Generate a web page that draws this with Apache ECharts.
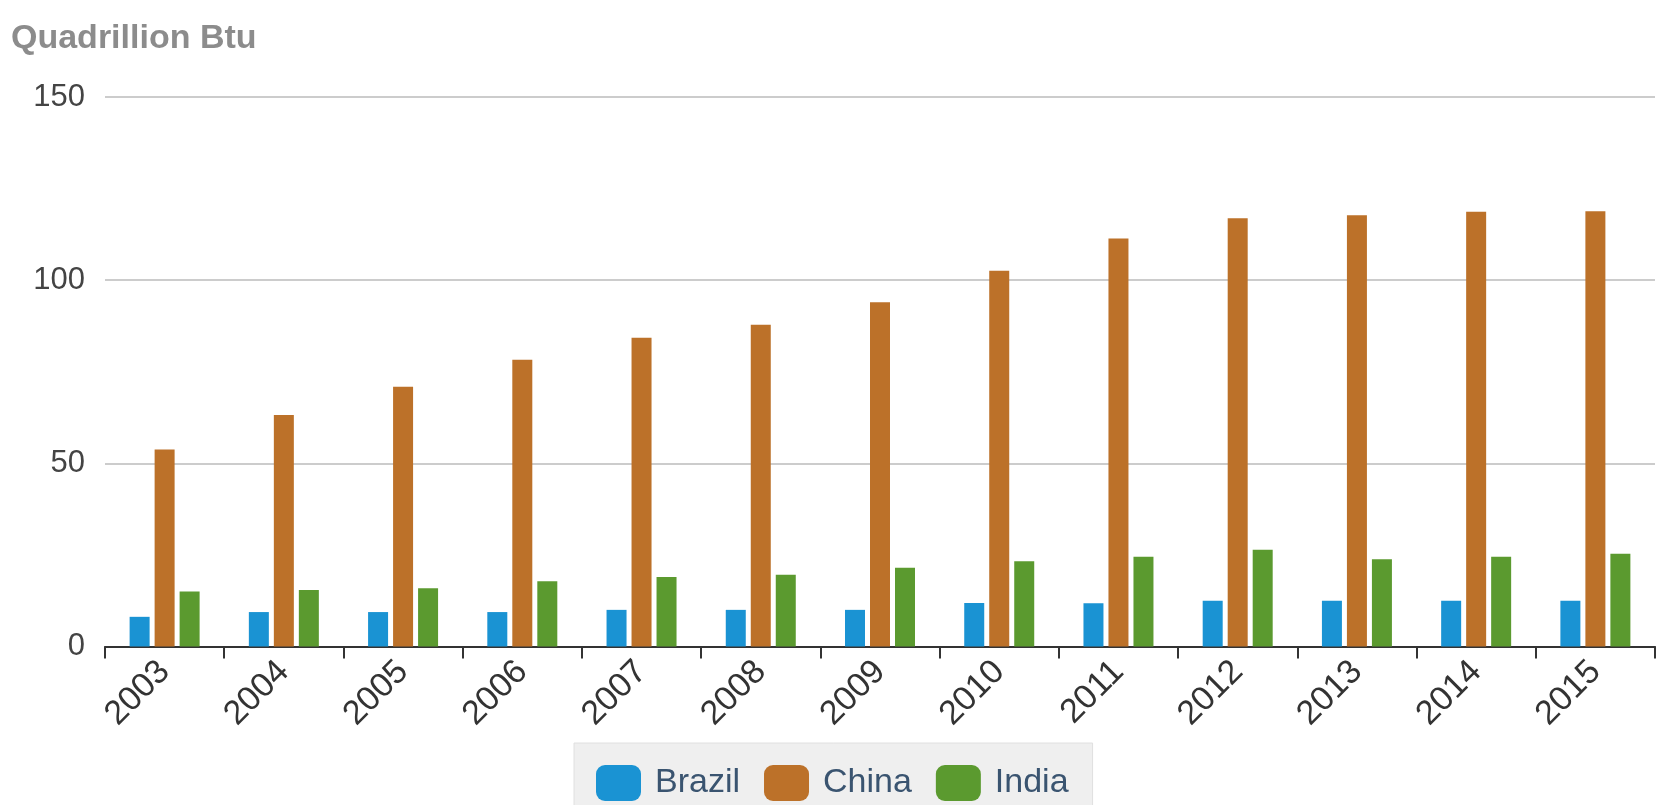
<!DOCTYPE html>
<html>
<head>
<meta charset="utf-8">
<script src="https://cdn.jsdelivr.net/npm/echarts@6/dist/echarts.min.js"></script>
<style>html,body{margin:0;padding:0;background:#fff;}#c{width:1657px;height:805px;}</style>
</head>
<body>
<div id="c"></div>
<script>
const years = ['2003','2004','2005','2006','2007','2008','2009','2010','2011','2012','2013','2014','2015'];
const brazil = [8.1, 9.4, 9.4, 9.4, 10.0, 10.0, 10.0, 11.9, 11.8, 12.5, 12.5, 12.5, 12.5];
const china = [53.8, 63.2, 70.9, 78.3, 84.3, 87.8, 94.0, 102.6, 111.4, 116.9, 117.7, 118.7, 118.8];
const india = [15.0, 15.4, 15.9, 17.8, 19.0, 19.6, 21.5, 23.3, 24.5, 26.4, 23.8, 24.5, 25.3];
const yTicks = [0, 50, 100, 150];
const unitLabel = 'Quadrillion Btu';

const FONT = '"Liberation Sans", Arial, Helvetica, sans-serif';
const chart = echarts.init(document.getElementById('c'), null, {renderer: 'canvas'});
const bar = (name, data, color) => ({
  name, type: 'bar', data, barWidth: 20, barGap: '25%',
  itemStyle: {color}, animation: false
});
chart.setOption({
  animation: false,
  textStyle: {fontFamily: FONT},
  title: {
    text: unitLabel, left: 6, top: 17,
    textStyle: {fontFamily: FONT, fontSize: 34, fontWeight: 'bold', color: '#8c8c8c'}
  },
  legend: {
    left: 574, top: 743,
    backgroundColor: '#efefef', borderColor: '#e0e0e0', borderWidth: 1,
    padding: [22, 24, 20, 22],
    itemWidth: 45, itemHeight: 36, itemGap: 24, icon: 'roundRect',
    textStyle: {fontFamily: FONT, fontSize: 34, color: '#3a5470', padding: [0, 0, 0, 9]},
    data: ['Brazil', 'China', 'India']
  },
  grid: {left: 105, right: 2, top: 97, bottom: 158.5, containLabel: false},
  xAxis: {
    type: 'category', data: years, boundaryGap: true,
    axisLine: {lineStyle: {color: '#333', width: 2}},
    axisTick: {show: true, length: 12, lineStyle: {color: '#333', width: 2}},
    axisLabel: {rotate: 45, fontSize: 34, color: '#333', margin: 20, fontFamily: FONT}
  },
  yAxis: {
    type: 'value', min: yTicks[0], max: yTicks[yTicks.length - 1], interval: 50,
    axisLine: {show: false}, axisTick: {show: false},
    splitLine: {lineStyle: {color: '#cccccc', width: 2}},
    axisLabel: {fontSize: 31, color: '#444', margin: 20, fontFamily: FONT}
  },
  series: [
    bar('Brazil', brazil, '#1a93d3'),
    bar('China', china, '#bc7129'),
    bar('India', india, '#5b9a2f')
  ]
});
</script>
</body>
</html>
